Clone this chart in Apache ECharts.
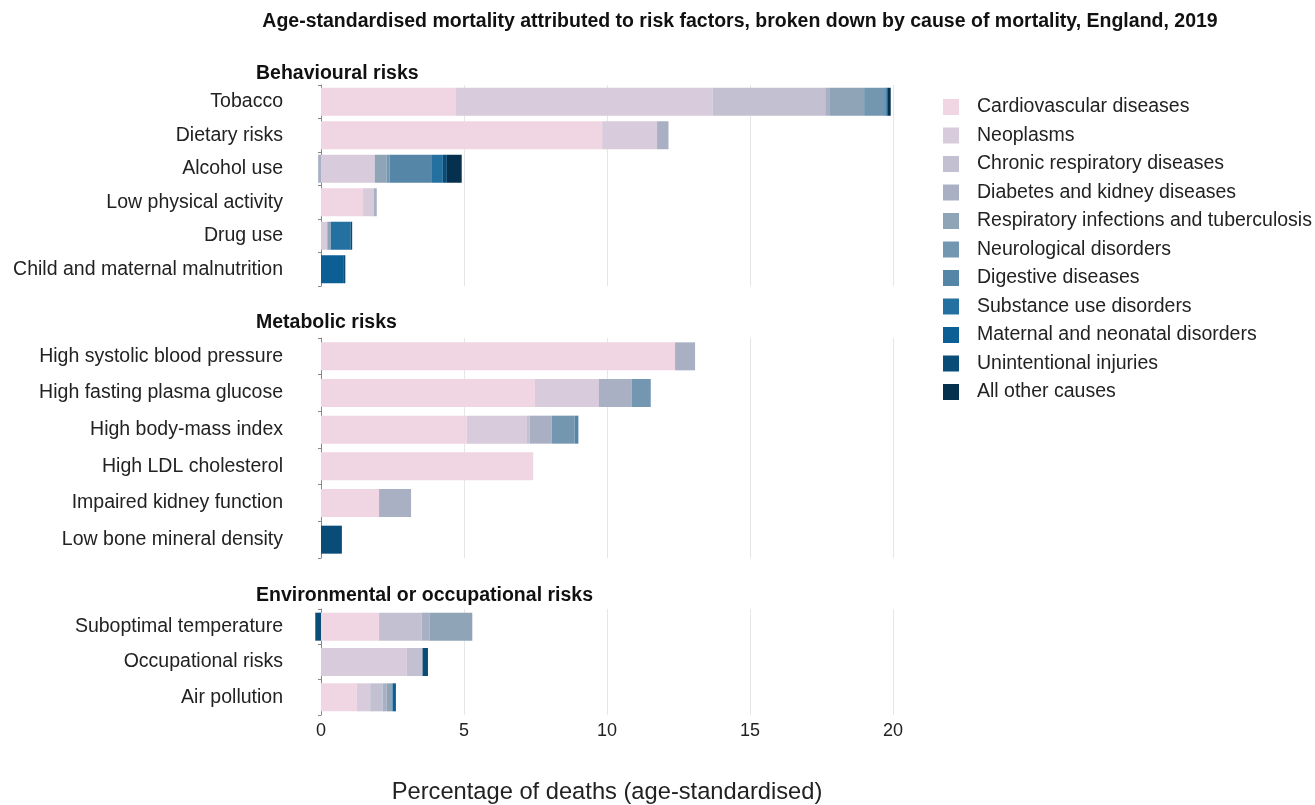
<!DOCTYPE html>
<html>
<head>
<meta charset="utf-8">
<script src="https://cdn.jsdelivr.net/npm/echarts@6/dist/echarts.min.js"></script>
<style>
html,body{margin:0;padding:0;background:#fff;}
#chart{width:1315px;height:805px;}
</style>
</head>
<body>
<div id="chart"></div>
<script>
// ---- Data ----
const behaviouralRisks = ['Tobacco','Dietary risks','Alcohol use','Low physical activity','Drug use','Child and maternal malnutrition'];
const metabolicRisks = ['High systolic blood pressure','High fasting plasma glucose','High body-mass index','High LDL cholesterol','Impaired kidney function','Low bone mineral density'];
const environmentalRisks = ['Suboptimal temperature','Occupational risks','Air pollution'];
const groupTitles = ['Behavioural risks','Metabolic risks','Environmental or occupational risks'];

const causes = ['Cardiovascular diseases','Neoplasms','Chronic respiratory diseases','Diabetes and kidney diseases','Respiratory infections and tuberculosis','Neurological disorders','Digestive diseases','Substance use disorders','Maternal and neonatal disorders','Unintentional injuries','All other causes'];

// values in order: behavioural (6), metabolic (6), environmental (3)
const cardiovascular   = [4.72, 9.83, 0,    1.47, 0,    0,    12.38, 7.48, 5.10, 7.42, 2.03, 0,    2.03, 0,    1.25];
const neoplasms        = [8.98, 1.92, 1.88, 0.38, 0.22, 0,    0,     2.24, 2.10, 0,    0,    0,    0,    3.00, 0.47];
const chronicResp      = [3.93, 0,    0,    0,    0,    0,    0,     0,    0.10, 0,    0,    0,    1.49, 0.55, 0.43];
const diabetesKidney   = [0.14, 0.40, -0.10,0.10, 0,    0,    0.70,  1.15, 0.77, 0,    1.12, 0,    0.27, 0,    0.15];
const respInfections   = [1.22, 0,    0.42, 0,    0.12, 0,    0,     0,    0,    0,    0,    0,    1.50, 0,    0.20];
const neurological     = [0.70, 0,    0.10, 0,    0,    0,    0,     0.66, 0.80, 0,    0,    0,    0,    0,    0];
const digestive        = [0.05, 0,    1.48, 0,    0,    0,    0,     0,    0.13, 0,    0,    0,    0,    0,    0];
const substanceUse     = [0.04, 0,    0.38, 0,    0.70, 0,    0,     0,    0,    0,    0,    0,    0,    0,    0];
const maternalNeonatal = [0.04, 0,    0,    0,    0,    0.80, 0,     0,    0,    0,    0,    0,    0,    0,    0.12];
const unintentional    = [0,    0,    0.14, 0,    0.05, 0.05, 0,     0,    0,    0,    0,    0.73, -0.20,0.19, 0];
const allOther         = [0.10, 0,    0.52, 0,    0,    0,    0,     0,    0,    0,    0,    0,    0,    0,    0];

const xTicks = [0, 5, 10, 15, 20];

// ---- Styles ----
const causeValues = [cardiovascular, neoplasms, chronicResp, diabetesKidney, respInfections, neurological, digestive, substanceUse, maternalNeonatal, unintentional, allOther];
const colors = ['#f0d6e2','#d8cbdb','#c3c0d1','#a9b0c4','#90a4b8','#7397b1','#5585a7','#2471a1','#0b5f94','#094c78','#05314f'];
const groups = [behaviouralRisks, metabolicRisks, environmentalRisks];
const grids = [
  {left: 321, width: 572, top: 85, height: 201},
  {left: 321, width: 572, top: 338, height: 220},
  {left: 321, width: 572, top: 609, height: 110}
];
const titleTops = [59, 308, 581];
const FONT = 'Liberation Sans, Arial, sans-serif';

const xAxes = [], yAxes = [], series = [], titles = [];
titles.push({
  text: 'Age-standardised mortality attributed to risk factors, broken down by cause of mortality, England, 2019',
  left: 735, top: 7, textAlign: 'center',
  textStyle: {fontFamily: FONT, fontSize: 19.5, fontWeight: 'bold', color: '#111'}
});
let offset = 0;
groups.forEach((cats, gi) => {
  titles.push({
    text: groupTitles[gi], left: 251, top: titleTops[gi],
    textStyle: {fontFamily: FONT, fontSize: 19.5, fontWeight: 'bold', color: '#111'}
  });
  const last = gi === groups.length - 1;
  xAxes.push({
    type: 'value', gridIndex: gi, min: xTicks[0], max: xTicks[xTicks.length - 1], interval: 5,
    axisLine: {show: false}, axisTick: {show: false},
    axisLabel: {show: last, fontFamily: FONT, fontSize: 18, color: '#222', margin: 7},
    splitLine: {show: true, lineStyle: {color: '#e6e6e6', width: 1}},
    name: last ? 'Percentage of deaths (age-standardised)' : '',
    nameLocation: 'middle', nameGap: 65,
    nameTextStyle: {fontFamily: FONT, fontSize: 23.7, color: '#222'}
  });
  yAxes.push({
    type: 'category', gridIndex: gi, data: cats, inverse: true,
    axisLine: {show: true, onZero: false, lineStyle: {color: '#888', width: 1}},
    axisTick: {show: true, length: 3, lineStyle: {color: '#888'}},
    axisLabel: {fontFamily: FONT, fontSize: 19.5, color: '#222', margin: 38}
  });
  causes.forEach((c, ci) => {
    series.push({
      name: c, type: 'bar', xAxisIndex: gi, yAxisIndex: gi,
      stack: 'g' + gi, barWidth: 28, clip: false,
      itemStyle: {color: colors[ci]},
      emphasis: {disabled: true},
      data: causeValues[ci].slice(offset, offset + cats.length)
    });
  });
  offset += cats.length;
});

const chart = echarts.init(document.getElementById('chart'), null, {renderer: 'canvas'});
chart.setOption({
  animation: false,
  backgroundColor: '#fff',
  color: colors,
  title: titles,
  grid: grids,
  xAxis: xAxes,
  yAxis: yAxes,
  legend: {
    data: causes, orient: 'vertical', left: 938, top: 92,
    icon: 'rect', itemWidth: 16, itemHeight: 16, itemGap: 8.5,
    selectedMode: false,
    textStyle: {fontFamily: FONT, fontSize: 19.5, color: '#222', padding: [0, 0, 0, 13]}
  },
  series: series
});
</script>
</body>
</html>
